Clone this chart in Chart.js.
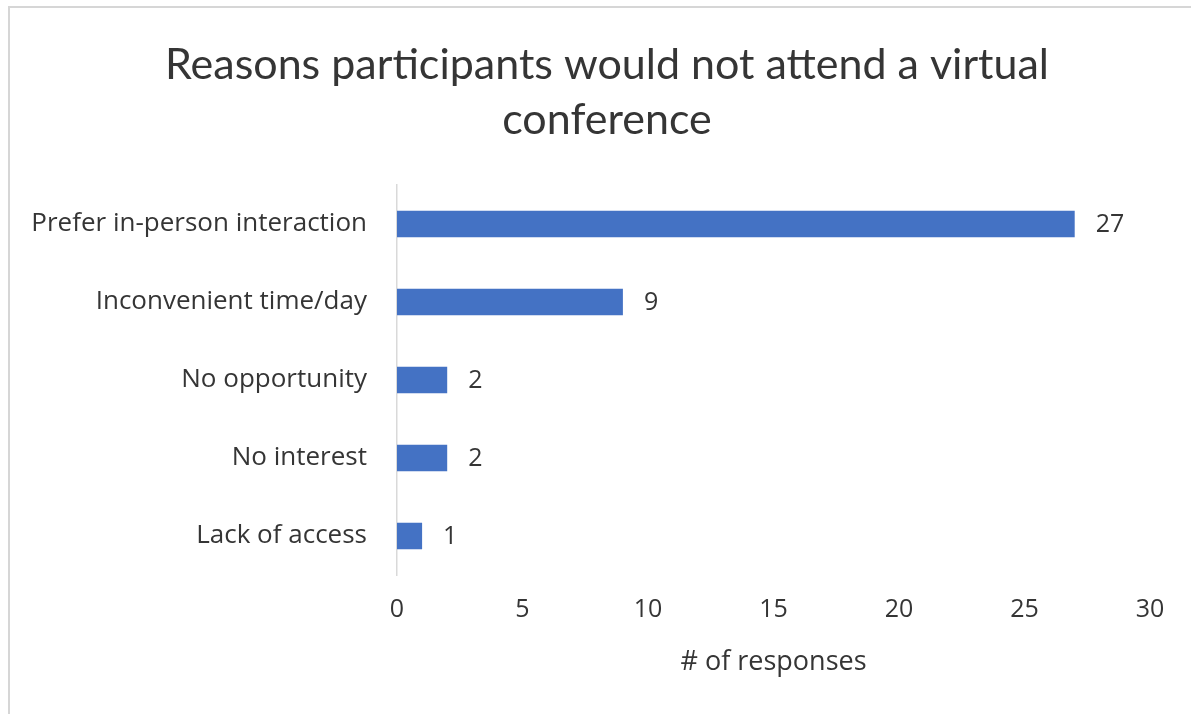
<!DOCTYPE html>
<html>
<head>
<meta charset="utf-8">
<script src="https://cdn.jsdelivr.net/npm/chart.js@4/dist/chart.umd.min.js"></script>
<style>
  html, body { margin: 0; padding: 0; background: #ffffff; }
  #wrap { position: relative; width: 1191px; height: 714px; }
</style>
</head>
<body>
<div id="wrap"><canvas id="chart" width="1191" height="714"></canvas></div>
<script>
// Survey reasons and response counts
const categories = [
  'Prefer in-person interaction',
  'Inconvenient time/day',
  'No opportunity',
  'No interest',
  'Lack of access'
];
const responses = [27, 9, 2, 2, 1];
const xTicks = [0, 5, 10, 15, 20, 25, 30];

const titleLines = ['Reasons participants would not attend a virtual', 'conference'];
const xAxisTitle = '# of responses';

const TITLE_FONT = 'Lato, "Open Sans", sans-serif';
const FONT = '"Open Sans", Lato, sans-serif';
const TEXT = '#353535';
const BAR = '#4472C4';

// White background plus the thin frame along the top and left edges
const framePlugin = {
  id: 'frame',
  beforeDraw(chart) {
    const ctx = chart.ctx;
    ctx.save();
    ctx.fillStyle = '#ffffff';
    ctx.fillRect(0, 0, chart.width, chart.height);
    ctx.fillStyle = '#d6d6d6';
    ctx.fillRect(8, 6, chart.width - 8, 2);
    ctx.fillRect(8, 6, 2, chart.height - 6);
    ctx.restore();
  }
};

// Two-line heading centred over the plot, in the space reserved by the top padding
const headingPlugin = {
  id: 'heading',
  afterDraw(chart) {
    const ctx = chart.ctx;
    ctx.save();
    ctx.font = '43px ' + TITLE_FONT;
    ctx.fillStyle = TEXT;
    ctx.textAlign = 'center';
    ctx.textBaseline = 'middle';
    titleLines.forEach((line, i) => ctx.fillText(line, 607, 65 + i * 55));
    ctx.restore();
  }
};

// Value printed just past the end of each bar
const valueLabels = {
  id: 'valueLabels',
  afterDatasetsDraw(chart) {
    const ctx = chart.ctx;
    const meta = chart.getDatasetMeta(0);
    ctx.save();
    ctx.font = '25px ' + FONT;
    ctx.fillStyle = TEXT;
    ctx.textAlign = 'left';
    ctx.textBaseline = 'middle';
    meta.data.forEach((bar, i) => {
      ctx.fillText(String(chart.data.datasets[0].data[i]), bar.x + 21, bar.y + 1);
    });
    ctx.restore();
  }
};

new Chart(document.getElementById('chart'), {
  type: 'bar',
  data: {
    labels: categories,
    datasets: [{
      data: responses,
      backgroundColor: BAR,
      borderWidth: 0,
      categoryPercentage: 1,
      barPercentage: 0.34
    }]
  },
  plugins: [framePlugin, headingPlugin, valueLabels],
  options: {
    indexAxis: 'y',
    responsive: false,
    animation: false,
    layout: { padding: { top: 185, right: 41, bottom: 0, left: 0 } },
    plugins: {
      legend: { display: false },
      tooltip: { enabled: false },
      title: { display: false }
    },
    scales: {
      x: {
        min: 0,
        max: 30,
        afterBuildTicks(scale) { scale.ticks = xTicks.map(v => ({ value: v })); },
        afterFit(scale) { scale.height = 139; },
        grid: { display: false, drawTicks: false },
        border: { display: false },
        ticks: { color: TEXT, font: { family: FONT, size: 25 }, padding: 20 },
        title: {
          display: true,
          text: xAxisTitle,
          color: TEXT,
          font: { family: FONT, size: 27 },
          padding: { top: 0, bottom: 35 }
        }
      },
      y: {
        afterFit(scale) { scale.width = 397; },
        grid: { display: false, drawTicks: false },
        border: { display: true, color: '#d9d9d9', width: 1.5 },
        ticks: { color: TEXT, font: { family: FONT, size: 26 }, padding: 30 }
      }
    }
  }
});
</script>
</body>
</html>
